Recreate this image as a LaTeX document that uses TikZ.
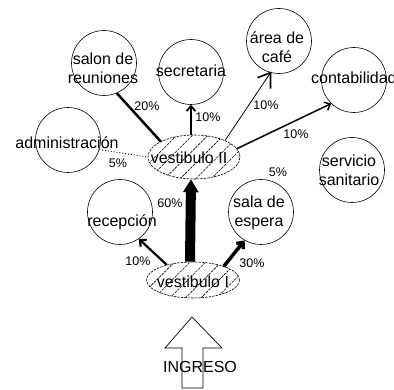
\documentclass[tikz,border=0pt]{standalone}
\usepackage{fontspec}
\setmainfont{Liberation Sans}
\usetikzlibrary{arrows.meta,patterns.meta,shapes.geometric}
\begin{document}
\begin{tikzpicture}[x=1pt,y=-1pt,
  room/.style={circle,draw,line width=0.6pt,minimum size=65pt,inner sep=0pt},
  hall/.style={ellipse,draw,dash pattern=on 2.5pt off 1pt,line width=0.6pt,inner sep=0pt,
    pattern={Lines[angle=45,distance=11pt,line width=0.6pt]}},
  txt/.style={font=\fontsize{16}{19}\selectfont,align=center,inner sep=0pt},
  pct/.style={font=\fontsize{12.5}{14}\selectfont,inner sep=0pt},
  arr/.style={-{Straight Barb[length=5pt,width=9pt]}}]
\useasboundingbox (0,0) rectangle (394,390);
% rooms
\node[room] (sal) at (104,63) {};
\node[room] (sec) at (191,72) {};
\node[room] (caf) at (279,41) {};
\node[room] (con) at (354,80) {};
\node[room] (adm) at (68,140) {};
\node[room] (san) at (352,170) {};
\node[room] (rec) at (120,212) {};
\node[room] (esp) at (261,212) {};
% halls
\node[hall,minimum width=92pt,minimum height=44pt] (v2) at (194,157) {};
\node[hall,minimum width=93pt,minimum height=36pt] (v1) at (193,280) {};
% texts
\node[txt] (tsal) at (103,68) {salon de\\reuniones};
\node[txt] (tsec) at (191,71) {secretaria};
\node[txt] (tcaf) at (277,47) {área de\\café};
\node[txt,anchor=west] (tcon) at (311,78) {contabilidad};
\node[txt] (tadm) at (67,143) {administración};
\node[txt] (tsan) at (349,170) {servicio\\sanitario};
\node[txt] (trec) at (122,222) {recepción};
\node[txt] (tesp) at (259,213) {sala de\\espera};
\node[txt] (tv2) at (189,158) {vestibulo II};
\node[txt] (tv1) at (193,282) {vestibulo I};
% connectors
\draw[line width=2.5pt] (v2.155) -- (sal.293);
\draw[arr,line width=1.8pt] (v2.north -| sec.south) -- (sec.south);
\draw[line width=0.8pt] (v2.28) -- (caf.255);
\draw[line width=1.6pt] ([shift={(-13,5)}]caf.255) -- (caf.255) -- ([shift={(0,16)}]caf.255);
\draw[arr,line width=1.5pt] (v2.11) -- (con.226);
\draw[dotted,line width=0.9pt] (adm.343) -- (v2.west);
\draw[arr,line width=2.2pt] (v1.150) -- (rec.305);
\draw[arr,line width=3.5pt] (v1.24) -- (esp.240);
\draw[line width=10pt,-{Triangle[width=15pt,length=13pt]}] ([xshift=-3pt]v1.north) -- ([xshift=-3pt]v2.south);
% labels
\node[pct] (p20) at (147,106) {20\%};
\node[pct] (p10a) at (208,117) {10\%};
\node[pct] (p10b) at (266,105) {10\%};
\node[pct] (p10c) at (296,134) {10\%};
\node[pct] (p5a) at (118,163) {5\%};
\node[pct] (p5b) at (278,172) {5\%};
\node[pct] (p60) at (170,203) {60\%};
\node[pct] (p10d) at (138,261) {10\%};
\node[pct] (p30) at (252,263) {30\%};
% entrance arrow
\draw[line width=0.7pt] (182,388) -- (182,348) -- (165,348) -- (192,317) -- (222,348) -- (203,348) -- (203,388) -- cycle;
\node[txt] (ing) at (200,367) {INGRESO};
\end{tikzpicture}
\end{document}
